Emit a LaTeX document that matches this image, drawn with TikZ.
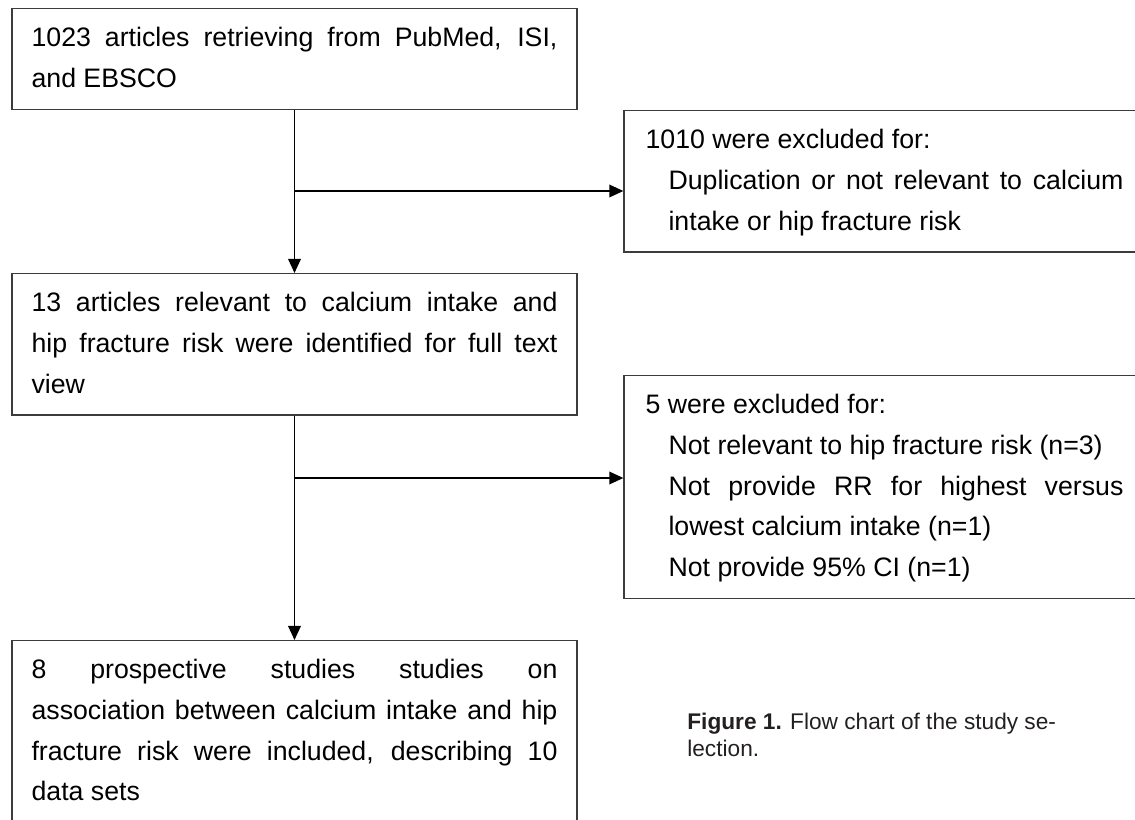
\documentclass[tikz,border=0pt]{standalone}
\usepackage{fontspec}
\setmainfont{Liberation Sans}
\usetikzlibrary{arrows.meta}
\usepackage{xcolor}
\definecolor{boxline}{RGB}{60,60,60}
\definecolor{captext}{RGB}{35,31,32}

\hyphenpenalty=10000
\exhyphenpenalty=10000

\begin{document}
\begin{tikzpicture}[
        x=0.02cm, y=-0.02cm,
        box/.style={draw=boxline, line width=0.8pt, fill=white, align=justify, anchor=north,
                    text width=10.52cm, minimum width=11.3cm, inner xsep=0pt, inner ysep=0.196cm,
                    font={\fontsize{15.2}{23.1}\selectfont\parindent=0pt\parskip=0pt\tolerance=10000\relax},
                    execute at begin node=\strut},
        mainbox/.style={box, execute at end node=\strut},
        sidebox/.style={box, text width=9.56cm, minimum width=10.42cm},
        arrow/.style={-{Triangle[length=8pt,width=7.2pt]}, line width=0.8pt},
        caption/.style={font=\fontsize{12.9}{15.1}\selectfont, text=captext,
                        align=left, anchor=north west, inner sep=0pt},
    ]

    % indented list of reasons inside the side boxes
    \long\def\reasonlist#1{\par\leftskip=0.46cm\relax#1\strut\par}

    \useasboundingbox (0,0) rectangle (1135,820);
    \clip (0,0) rectangle (1135,820);

    % ---------- main column ----------------------------------------------
    \node[mainbox] (search)   at (294.5,   8) {1023 articles retrieving from PubMed, ISI,\linebreak and EBSCO};
    \node[mainbox] (fulltext) at (294.5, 273) {13 articles relevant to calcium intake and\linebreak hip fracture risk were identified for full text\linebreak view};
    \node[mainbox] (included) at (294.5, 640) {8 prospective studies studies on\linebreak association between calcium intake and hip\linebreak fracture risk were included, describing 10\linebreak data sets};

    % ---------- exclusions -----------------------------------------------
    \node[sidebox] (duplicates) at (884.5, 110) {1010 were excluded for:\reasonlist{%
        Duplication or not relevant to calcium\linebreak intake or hip fracture risk}};
    \node[sidebox] (reasons)    at (884.5, 375) {5 were excluded for:\reasonlist{%
        Not relevant to hip fracture risk (n=3)\par
        Not provide RR for highest versus\linebreak lowest calcium intake (n=1)\par
        Not provide 95\% CI (n=1)}};

    % ---------- caption --------------------------------------------------
    \node[caption] (figcaption) at (687, 713) {\textbf{Figure 1.} Flow chart of the study se-\\lection.};

    % ---------- connectors -----------------------------------------------
    \coordinate (split1) at (294.5, 191);
    \coordinate (split2) at (294.5, 478);

    \draw[arrow] (search) -- (fulltext);
    \draw[arrow] (split1) -- (split1 -| duplicates.west);
    \draw[arrow] (fulltext) -- (included);
    \draw[arrow] (split2) -- (split2 -| reasons.west);

\end{tikzpicture}
\end{document}
